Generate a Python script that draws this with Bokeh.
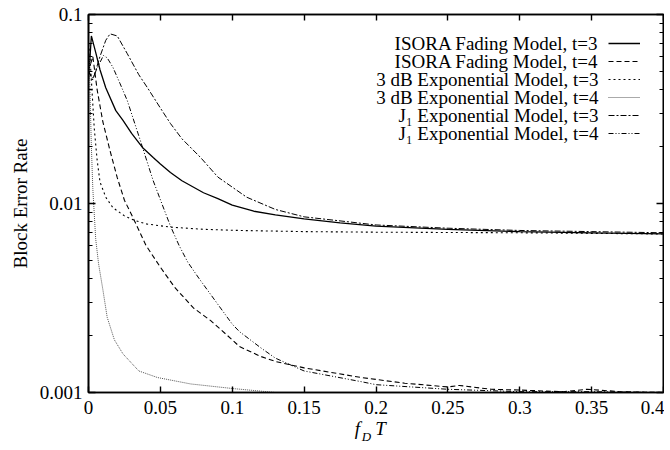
from bokeh.plotting import figure
from bokeh.models import (Range1d, FixedTicker, LogAxis, LinearAxis, CustomJSTickFormatter,
                          Label, Legend, LegendItem)
from bokeh.embed import file_html
from bokeh.resources import INLINE

FONT = "Liberation Serif"

# ---- data ----
isora3_x = [0, 0.002, 0.005, 0.008, 0.012, 0.019, 0.024, 0.03, 0.0375, 0.045, 0.05, 0.057, 0.065,
            0.08, 0.09, 0.1, 0.115, 0.13, 0.15, 0.175, 0.2, 0.25, 0.3, 0.35, 0.4]
isora3_y = [0.045, 0.077, 0.063, 0.051, 0.041, 0.031, 0.0275, 0.0235, 0.0198, 0.0175, 0.0162, 0.0146, 0.0132,
            0.0114, 0.0106, 0.0098, 0.0091, 0.0087, 0.0083, 0.0079, 0.0076, 0.0073, 0.0071, 0.0070, 0.0069]

isora4_x = [0, 0.003, 0.006, 0.01, 0.015, 0.02, 0.025, 0.031, 0.04, 0.05, 0.06, 0.073, 0.085, 0.1,
            0.105, 0.12, 0.13, 0.15, 0.19, 0.22, 0.25, 0.258, 0.28, 0.3, 0.33, 0.347, 0.37, 0.4]
isora4_y = [0.05, 0.06, 0.04, 0.027, 0.019, 0.0137, 0.0104, 0.0084, 0.006, 0.0046, 0.0036, 0.0028, 0.0024, 0.0019,
            0.00175, 0.00155, 0.00146, 0.00135, 0.0012, 0.00112, 0.00107, 0.00109, 0.00104, 0.00103, 0.00101,
            0.00104, 0.00101, 0.001]

exp3_x = [0, 0.001, 0.002, 0.004, 0.006, 0.008, 0.012, 0.017, 0.025, 0.031, 0.04, 0.057, 0.08, 0.105,
          0.15, 0.2, 0.3, 0.4]
exp3_y = [0.07, 0.06, 0.045, 0.025, 0.017, 0.013, 0.0108, 0.0095, 0.0086, 0.0082, 0.0078, 0.0075, 0.0073, 0.0072,
          0.0071, 0.00705, 0.0070, 0.0069]

exp4_x = [0, 0.001, 0.002, 0.003, 0.005, 0.007, 0.01, 0.013, 0.018, 0.024, 0.035, 0.048, 0.071, 0.1,
          0.13, 0.15, 0.2, 0.3, 0.4]
exp4_y = [0.075, 0.04, 0.02, 0.012, 0.0065, 0.0048, 0.0035, 0.0025, 0.0019, 0.0016, 0.0013, 0.0012, 0.00111,
          0.00105, 0.001, 0.00099, 0.00097, 0.00095, 0.00094]

j13_x = [0, 0.003, 0.008, 0.012, 0.015, 0.02, 0.027, 0.035, 0.041, 0.05, 0.057, 0.065, 0.078, 0.09,
         0.11, 0.13, 0.15, 0.2, 0.25, 0.3, 0.35, 0.4]
j13_y = [0.05, 0.045, 0.06, 0.073, 0.079, 0.077, 0.062, 0.048, 0.041, 0.032, 0.0265, 0.022, 0.0175, 0.0138,
         0.0108, 0.0093, 0.0085, 0.0077, 0.0074, 0.0072, 0.0071, 0.0070]

j14_x = [0, 0.003, 0.006, 0.0104, 0.013, 0.017, 0.022, 0.027, 0.036, 0.045, 0.051, 0.057, 0.063, 0.069,
         0.077, 0.085, 0.1, 0.105, 0.12, 0.13, 0.15, 0.19, 0.2, 0.25, 0.3, 0.35, 0.4]
j14_y = [0.05, 0.046, 0.052, 0.0607, 0.059, 0.0525, 0.043, 0.035, 0.0216, 0.0132, 0.0100, 0.0076, 0.006, 0.0049,
         0.004, 0.0033, 0.0023, 0.0021, 0.00172, 0.00152, 0.0013, 0.00114, 0.0011, 0.00104, 0.00101, 0.00101, 0.001]

legend_labels = ["ISORA Fading Model, t=3", "ISORA Fading Model, t=4",
                 "3 dB Exponential Model, t=3", "3 dB Exponential Model, t=4",
                 "J\u2081 Exponential Model, t=3", "J\u2081 Exponential Model, t=4"]
x_ticks = [0, 0.05, 0.1, 0.15, 0.2, 0.25, 0.3, 0.35, 0.4]
y_ticks = [0.001, 0.01, 0.1]
y_minor = [0.002, 0.003, 0.004, 0.005, 0.006, 0.007, 0.008, 0.009,
           0.02, 0.03, 0.04, 0.05, 0.06, 0.07, 0.08, 0.09]
y_title = "Block Error Rate"
# x title "f_D T": main letters and subscript, placed along the x axis
x_title_main = {0.1871: "f", 0.2031: "T"}
x_title_sub = {0.1934: "D"}

# ---- figure ----
p = figure(width=664, height=448, x_range=Range1d(0, 0.4), y_range=Range1d(0.001, 0.1),
           y_axis_type="log", output_backend="svg", toolbar_location=None,
           min_border_left=88, min_border_right=1, min_border_top=14, min_border_bottom=56)
p.grid.visible = False
p.outline_line_color = "black"
p.outline_line_width = 1.6
p.background_fill_color = "white"
p.border_fill_color = "white"

fmt = CustomJSTickFormatter(code="return parseFloat(tick.toFixed(4)).toString();")

xa = p.xaxis[0]
xa.ticker = FixedTicker(ticks=x_ticks, minor_ticks=[])
xa.formatter = fmt
ya = p.yaxis[0]
ya.ticker = FixedTicker(ticks=y_ticks, minor_ticks=y_minor)
ya.formatter = fmt
ya.axis_label = y_title
ya.axis_label_standoff = 6
ya.axis_label_text_font = FONT
ya.axis_label_text_font_size = "19px"
ya.axis_label_text_font_style = "normal"
ya.axis_label_text_color = "black"

for ax in (xa, ya):
    ax.major_label_text_font = FONT
    ax.major_label_text_font_size = "19px"
    ax.major_label_text_color = "black"
    ax.axis_line_color = "black"
    ax.axis_line_width = 1.6
    ax.major_tick_out = 0
    ax.minor_tick_out = 0
    ax.major_tick_line_width = 1.4
    ax.minor_tick_line_width = 1
xa.major_tick_in = 6
ya.major_tick_in = 7
ya.minor_tick_in = 4
xa.major_label_standoff = 8
ya.major_label_standoff = 6

top = LinearAxis(ticker=FixedTicker(ticks=x_ticks, minor_ticks=[]), major_label_text_font_size="1px",
                 major_label_text_color=None,
                 major_tick_in=6, major_tick_out=0, minor_tick_in=0, minor_tick_out=0,
                 major_label_standoff=0, axis_line_color="black", axis_line_width=1.6,
                 major_tick_line_width=1.4)
right = LogAxis(ticker=FixedTicker(ticks=y_ticks, minor_ticks=y_minor), major_label_text_font_size="1px",
                major_label_text_color=None,
                major_tick_in=7, major_tick_out=0, minor_tick_in=4, minor_tick_out=0,
                major_label_standoff=0, axis_line_color="black", axis_line_width=1.6,
                major_tick_line_width=1.4)
p.add_layout(top, "above")
p.add_layout(right, "right")

# x-axis title built from two label-only axes (letters f, T and subscript D)
def title_axis(labels, size, standoff):
    ax = LinearAxis(ticker=FixedTicker(ticks=list(labels.keys()), minor_ticks=[]),
                    major_label_overrides=labels, major_label_text_font=FONT,
                    major_label_text_font_size=size, major_label_text_font_style="italic",
                    major_label_text_color="black", major_label_standoff=standoff,
                    axis_line_color=None, major_tick_line_color=None, minor_tick_line_color=None,
                    major_tick_in=0, major_tick_out=0, minor_tick_in=0, minor_tick_out=0)
    return ax

p.add_layout(title_axis(x_title_main, "19px", 1), "below")
p.add_layout(title_axis(x_title_sub, "13px", -13), "below")

series = [
    (isora3_x, isora3_y, dict(line_color="black", line_width=1.3)),
    (isora4_x, isora4_y, dict(line_color="black", line_width=1.1, line_dash="5 3")),
    (exp3_x, exp3_y, dict(line_color="black", line_width=1.1, line_dash="2 3")),
    (exp4_x, exp4_y, dict(line_color="#555555", line_width=1.0, line_dash="1 1")),
    (j13_x, j13_y, dict(line_color="black", line_width=1.0, line_dash="6 2 2 2")),
    (j14_x, j14_y, dict(line_color="black", line_width=1.0, line_dash="5 2 1 2 1 2")),
]
renderers = []
for xs, ys, style in series:
    renderers.append(p.line(xs, ys, **style))

# gnuplot-style key: text right-aligned, line sample to the right
items = [LegendItem(label=" ", renderers=[r]) for r in renderers]
leg = Legend(items=items, location=(520, 250), glyph_width=32, glyph_height=18, label_height=18,
             label_width=1, label_text_font_size="10px", label_text_color=None,
             spacing=0, padding=0, margin=0,
             border_line_color=None, background_fill_alpha=0, label_standoff=0)
p.add_layout(leg)

for i, name in enumerate(legend_labels):
    p.add_layout(Label(x=510, y=349 - 18 * i, x_units="screen", y_units="screen", text=name,
                       text_align="right", text_baseline="middle", text_font=FONT,
                       text_font_size="19px", text_color="black"))

open("out.html", "w").write(file_html(p, INLINE))
